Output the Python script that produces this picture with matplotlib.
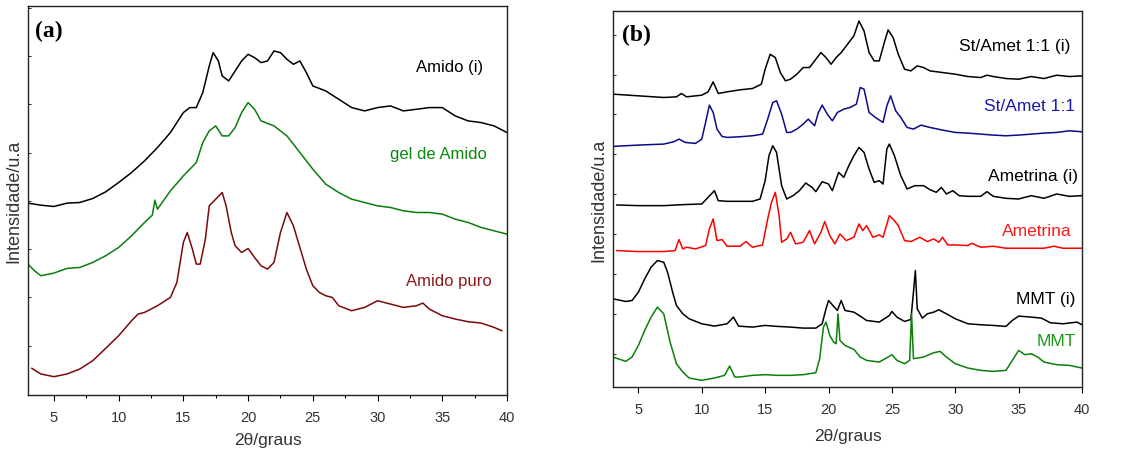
import matplotlib.pyplot as plt
from matplotlib.ticker import MultipleLocator
import numpy as np

# ---- panel (a) data: 2theta (deg) / intensity (a.u., stacked) ----
amido_i_x = [3, 4, 5, 6, 7, 8, 9, 10, 11, 12, 13, 14, 14.5, 15, 15.5, 16, 16.5, 17, 17.3, 17.7,
             18, 18.5, 19, 19.5, 20, 20.5, 21, 21.5, 22, 22.5, 23, 23.5, 24, 24.5, 25, 26, 27,
             28, 29, 30, 31, 32, 33, 34, 35, 36, 37, 38, 39, 40]
amido_i_y = [576, 570, 566, 576, 578, 590, 610, 638, 668, 703, 743, 788, 818, 848, 863, 863, 908,
             988, 1028, 1003, 958, 943, 973, 1003, 1023, 1013, 998, 1003, 1033, 1028, 1008, 993,
             1003, 968, 928, 913, 888, 863, 853, 863, 868, 853, 858, 863, 863, 838, 823, 818, 808, 788]

gel_x = [3, 3.5, 4, 5, 6, 7, 8, 9, 10, 11, 12, 12.6, 12.8, 13, 14, 15, 16, 16.5, 17, 17.5, 18,
         18.5, 19, 19.5, 20, 20.5, 21, 22, 23, 24, 25, 26, 27, 28, 29, 30, 31, 32, 33, 34, 35,
         36, 37, 38, 39, 40]
gel_y = [393, 373, 358, 366, 380, 383, 398, 418, 443, 478, 518, 540, 585, 558, 613, 658, 698, 758,
         793, 808, 778, 778, 803, 848, 878, 858, 823, 808, 778, 728, 678, 633, 608, 588, 578, 568,
         563, 553, 548, 548, 543, 528, 518, 503, 493, 483]

puro_x = [3.3, 4, 5, 6, 7, 8, 9, 10, 11, 11.5, 12, 13, 14, 14.5, 15, 15.3, 15.7, 16, 16.3, 16.7,
          17, 17.5, 18, 18.3, 18.7, 19, 19.5, 20, 20.5, 21, 21.5, 22, 22.5, 23, 23.5, 24, 24.5,
          25, 25.5, 26, 26.5, 27, 28, 29, 30, 31, 32, 33, 33.5, 34, 35, 36, 37, 38, 39, 39.6]
puro_y = [80, 63, 55, 63, 78, 103, 140, 178, 223, 243, 248, 268, 293, 338, 458, 488, 438, 393, 393,
          468, 568, 588, 608, 568, 488, 448, 428, 440, 413, 388, 378, 398, 488, 548, 508, 443, 378,
          328, 308, 298, 293, 268, 253, 263, 283, 273, 263, 268, 276, 258, 238, 228, 220, 216, 203, 193]

# ---- panel (b) data ----
stamet_i_x = [3, 5, 7, 8, 8.4, 8.8, 10, 10.5, 10.9, 11.3, 12, 13, 14, 14.7, 15, 15.4, 15.8, 16.2,
              16.6, 17, 17.5, 18, 18.5, 19, 19.4, 19.8, 20.2, 20.6, 21, 21.5, 22, 22.4, 22.8, 23.2,
              23.6, 24, 24.4, 24.7, 25.1, 25.5, 26, 26.5, 27, 27.5, 28, 29, 30, 31, 32, 32.5, 33,
              34, 35, 36, 37, 38, 39, 40]
stamet_i_y = [880, 875, 870, 872, 882, 872, 877, 887, 917, 882, 887, 893, 897, 910, 955, 1000, 990,
              945, 920, 925, 940, 960, 960, 985, 1005, 990, 970, 990, 1005, 1030, 1055, 1100, 1070,
              1005, 980, 980, 1035, 1073, 1050, 1000, 955, 950, 965, 960, 950, 945, 940, 933, 930,
              937, 933, 927, 925, 933, 927, 937, 933, 935]

stamet_x = [3, 5, 7, 7.8, 8.2, 8.7, 9.5, 10, 10.3, 10.6, 10.9, 11.2, 11.6, 12, 13, 14, 14.8, 15.2,
            15.6, 15.9, 16.3, 16.7, 17, 17.5, 18, 18.4, 18.9, 19.2, 19.5, 19.9, 20.3, 20.7, 21.2,
            21.7, 22.2, 22.5, 22.8, 23.2, 23.7, 24.3, 24.6, 24.9, 25.3, 25.7, 26.2, 26.7, 27.3, 28,
            29, 30, 31, 32, 33, 34, 35, 36, 37, 38, 39, 40]
stamet_y = [723, 727, 730, 737, 745, 735, 732, 745, 795, 847, 825, 775, 753, 750, 752, 755, 760, 805,
            855, 860, 820, 765, 765, 775, 790, 805, 785, 825, 847, 820, 800, 825, 835, 840, 850, 900,
            895, 825, 810, 795, 845, 875, 830, 810, 780, 775, 787, 780, 772, 765, 763, 760, 757, 755,
            757, 760, 763, 765, 770, 767]

amet_i_x = [3.3, 5, 7, 8.5, 10, 10.5, 11, 11.3, 12, 13, 14, 14.6, 15, 15.3, 15.6, 15.9, 16.3, 16.7,
            17.2, 17.7, 18.2, 18.7, 19, 19.5, 20, 20.3, 20.8, 21.2, 21.6, 22, 22.4, 22.8, 23.2, 23.6,
            24, 24.3, 24.6, 24.8, 25.2, 25.7, 26.2, 26.8, 27.5, 28, 28.5, 28.9, 29.3, 29.8, 30.3,
            31, 32, 32.5, 33, 34, 35, 36, 37, 38, 39, 40]
amet_i_y = [547, 545, 545, 548, 550, 570, 590, 560, 558, 558, 558, 565, 620, 695, 725, 705, 605, 565,
            575, 590, 613, 600, 587, 617, 610, 590, 645, 630, 665, 695, 720, 705, 655, 615, 620, 610,
            715, 730, 695, 635, 595, 605, 605, 593, 585, 600, 580, 590, 575, 573, 573, 587, 573, 567,
            565, 575, 567, 580, 573, 575]

amet_x = [3.3, 5, 7, 7.9, 8.2, 8.5, 8.8, 9.5, 10.3, 10.6, 10.9, 11.2, 11.6, 12, 13, 13.5, 14, 14.8,
          15.2, 15.5, 15.8, 16.1, 16.3, 16.7, 17, 17.4, 18, 18.5, 18.9, 19.4, 19.7, 20.1, 20.5, 20.9,
          21.4, 22, 22.4, 22.7, 23, 23.5, 24, 24.3, 24.8, 25.2, 25.5, 26, 26.5, 27.2, 27.8, 28.3,
          28.7, 29, 29.4, 30, 31, 31.3, 32, 33, 34, 35, 37, 37.8, 38.5, 40]
amet_y = [410, 407, 407, 410, 443, 415, 420, 415, 425, 475, 505, 440, 443, 423, 423, 437, 420, 427,
          505, 555, 585, 515, 435, 445, 465, 430, 435, 470, 430, 465, 497, 455, 430, 460, 440, 450,
          490, 470, 485, 450, 457, 450, 515, 500, 485, 440, 437, 450, 437, 445, 435, 450, 427, 427,
          425, 432, 420, 423, 417, 417, 417, 423, 417, 417]

mmt_i_x = [3, 4, 4.5, 5, 5.5, 6, 6.5, 7, 7.3, 7.7, 8, 8.5, 9, 10, 11, 12, 12.5, 12.9, 14, 15, 16,
           17, 18, 19, 19.5, 19.8, 20, 20.3, 20.7, 21, 21.3, 22, 22.5, 23, 24, 24.8, 25, 25.4, 26,
           26.5, 26.7, 26.85, 27, 27.4, 27.8, 28.3, 28.7, 29.3, 30, 31, 32, 33, 34, 34.5, 35, 36,
           36.8, 37.5, 38.5, 39.6, 40]
mmt_i_y = [265, 257, 260, 285, 325, 360, 380, 375, 345, 285, 245, 220, 205, 190, 183, 190, 210, 183,
           180, 185, 182, 180, 177, 177, 190, 235, 260, 247, 230, 260, 230, 225, 213, 200, 195, 215,
           227, 210, 197, 203, 285, 350, 235, 207, 220, 225, 232, 220, 205, 190, 187, 185, 182, 200,
           213, 210, 207, 193, 190, 195, 187]

mmt_x = [3, 4, 4.5, 5, 5.5, 6, 6.5, 7, 7.5, 8, 8.5, 9, 10, 11, 11.8, 12.2, 12.6, 13, 14, 15, 16, 17,
         18, 19, 19.3, 19.6, 19.8, 20.1, 20.4, 20.6, 20.75, 20.9, 21.3, 22, 22.5, 23, 24, 24.7, 25,
         25.4, 26, 26.4, 26.55, 26.7, 27.5, 28.3, 28.8, 29.3, 30, 31, 32, 33, 34, 34.5, 35, 35.5,
         36, 36.5, 37, 38, 39, 40]
mmt_y = [90, 77, 90, 125, 170, 210, 240, 220, 135, 70, 45, 27, 20, 27, 35, 63, 30, 30, 35, 37, 35, 35,
         37, 43, 85, 180, 195, 155, 135, 130, 220, 140, 125, 113, 90, 80, 75, 90, 97, 80, 70, 80, 220,
         85, 90, 103, 107, 90, 70, 57, 50, 47, 50, 80, 110, 97, 100, 90, 75, 67, 65, 57]

sans = ['Liberation Sans', 'DejaVu Sans']
serif = ['Liberation Serif', 'DejaVu Serif']
H = 452  # figure height in px, label positions below are measured from the top

fig = plt.figure(figsize=(11.29, 4.52), dpi=100)
ax1 = fig.add_axes([0.0248, 0.1239, 0.4243, 0.8606])
ax2 = fig.add_axes([0.543, 0.1416, 0.4154, 0.8319])

# panel (a)
ax1.plot(amido_i_x, amido_i_y, color='black', lw=1.1)
ax1.plot(gel_x, gel_y, color='#0a7d0a', lw=1.1)
ax1.plot(puro_x, puro_y, color='#7a0a0a', lw=1.1)
ax1.set_xlim(3, 40)
ax1.set_ylim(0, 1168)
ax1.xaxis.set_major_locator(MultipleLocator(5))
ax1.xaxis.set_minor_locator(MultipleLocator(2.5))
ax1.set_yticks(np.arange(148, 1168, 145))
ax1.tick_params(axis='x', which='major', direction='out', length=4.5, width=0.8, labelsize=10.5, pad=6)
ax1.tick_params(axis='x', which='minor', direction='out', length=2.2, width=0.8)
ax1.tick_params(axis='y', direction='in', length=2, width=0.6, labelleft=False)
ax1.text(0.015, 0.965, '(a)', transform=ax1.transAxes, fontsize=17, fontweight='bold',
         family=serif, ha='left', va='top')
labels_a = [('Amido (i)', 483, 68, 'black'),
            ('gel de Amido', 487, 155, '#0a8a0a'),
            ('Amido puro', 492, 282, '#8b1a1a')]
for txt, px, py, col in labels_a:
    ax1.text(px, H - py, txt, transform=None, fontsize=12, color=col, family=sans,
             ha='right', va='center')
ax1.set_xlabel('2θ/graus', fontsize=12.5, family=sans, labelpad=6, color='#333333')
ax1.set_ylabel('Intensidade/u.a', fontsize=13, family=sans, labelpad=4, color='#333333')

# panel (b)
ax2.plot(stamet_i_x, stamet_i_y, color='black', lw=1.1)
ax2.plot(stamet_x, stamet_y, color='#0a0a8a', lw=1.1)
ax2.plot(amet_i_x, amet_i_y, color='black', lw=1.1)
ax2.plot(amet_x, amet_y, color='#ff0000', lw=1.1)
ax2.plot(mmt_i_x, mmt_i_y, color='black', lw=1.1)
ax2.plot(mmt_x, mmt_y, color='#0a800a', lw=1.1)
ax2.set_xlim(3, 40)
ax2.set_ylim(0, 1130)
ax2.xaxis.set_major_locator(MultipleLocator(5))
ax2.set_yticks(np.arange(99, 1130, 120))
ax2.tick_params(axis='x', direction='out', length=4.5, width=0.8, labelsize=10.5, pad=6)
ax2.tick_params(axis='y', direction='in', length=2, width=0.6, labelleft=False)
ax2.text(0.02, 0.965, '(b)', transform=ax2.transAxes, fontsize=17, fontweight='bold',
         family=serif, ha='left', va='top')
labels_b = [('St/Amet 1:1 (i)', 1070, 47, 'black'),
            ('St/Amet 1:1', 1075, 107, '#1a1aaa'),
            ('Ametrina (i)', 1078, 177, 'black'),
            ('Ametrina', 1072, 232, '#ff1a1a'),
            ('MMT (i)', 1075, 300, 'black'),
            ('MMT', 1076, 342, '#1a9a1a')]
for txt, px, py, col in labels_b:
    ax2.text(px, H - py, txt, transform=None, fontsize=12.5, color=col, family=sans,
             ha='right', va='center')
ax2.set_xlabel('2θ/graus', fontsize=12.5, family=sans, labelpad=9, color='#333333')
ax2.set_ylabel('Intensidade/u.a', fontsize=13, family=sans, labelpad=4, color='#333333')

for ax in (ax1, ax2):
    for s in ax.spines.values():
        s.set_linewidth(1.0)
        s.set_color('#222222')
    for lab in ax.get_xticklabels():
        lab.set_family(sans)
        lab.set_color('#333333')

fig.savefig('out.png', dpi=100, facecolor='white')
